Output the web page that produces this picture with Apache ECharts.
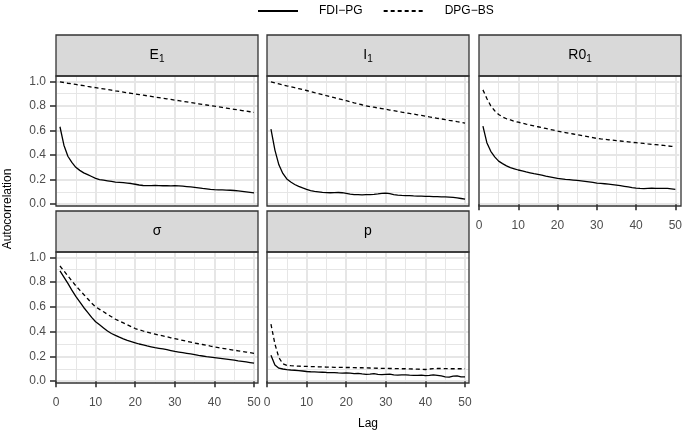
<!DOCTYPE html>
<html>
<head>
<meta charset="utf-8">
<script src="https://cdn.jsdelivr.net/npm/echarts@6/dist/echarts.min.js"></script>
<style>
  html, body { margin: 0; padding: 0; background: #fff; }
  #myChart { width: 685px; height: 432px; }
</style>
</head>
<body>
<div id="myChart"></div>
<script>
// lag axis
const lags = [1,2,3,4,5,6,7,8,9,10,11,12,13,14,15,16,17,18,19,20,21,22,23,24,25,
  26,27,28,29,30,31,32,33,34,35,36,37,38,39,40,41,42,43,44,45,46,47,48,49,50];

// E1
const fdiE1 = [0.63,0.48,0.39,0.34,0.30,0.275,0.255,0.24,0.225,0.21,0.20,0.195,0.19,0.185,0.18,0.178,0.175,0.172,0.168,0.162,
  0.156,0.152,0.151,0.151,0.152,0.151,0.15,0.15,0.149,0.15,0.148,0.146,0.143,0.14,0.137,0.133,0.128,0.124,0.12,0.118,
  0.117,0.116,0.115,0.113,0.111,0.108,0.104,0.1,0.096,0.092];
const dpgE1 = [0.995,0.99,0.984,0.979,0.974,0.969,0.964,0.958,0.953,0.948,0.943,0.938,0.933,0.928,0.922,0.917,0.912,0.907,0.902,0.897,
  0.892,0.887,0.882,0.877,0.872,0.867,0.862,0.857,0.852,0.847,0.842,0.837,0.832,0.827,0.822,0.817,0.812,0.807,0.802,0.797,
  0.792,0.787,0.782,0.777,0.772,0.767,0.762,0.757,0.752,0.747];
// I1
const fdiI1 = [0.61,0.44,0.32,0.25,0.205,0.18,0.16,0.145,0.132,0.12,0.11,0.104,0.1,0.096,0.094,0.093,0.094,0.095,0.093,0.088,
  0.082,0.078,0.077,0.076,0.077,0.078,0.08,0.083,0.087,0.09,0.085,0.078,0.073,0.071,0.07,0.069,0.067,0.066,0.065,0.064,
  0.063,0.062,0.061,0.06,0.059,0.058,0.055,0.051,0.046,0.041];
const dpgI1 = [0.995,0.987,0.979,0.971,0.963,0.956,0.948,0.94,0.932,0.925,0.917,0.908,0.9,0.892,0.883,0.875,0.867,0.858,0.85,0.842,
  0.834,0.825,0.817,0.809,0.8,0.794,0.789,0.783,0.778,0.772,0.766,0.761,0.755,0.749,0.744,0.738,0.733,0.727,0.722,0.716,
  0.71,0.705,0.699,0.694,0.688,0.682,0.677,0.671,0.666,0.66];
// R0_1
const fdiR01 = [0.635,0.50,0.43,0.385,0.35,0.33,0.312,0.298,0.288,0.278,0.27,0.262,0.255,0.248,0.242,0.236,0.228,0.222,0.216,0.21,
  0.206,0.202,0.199,0.196,0.193,0.19,0.186,0.182,0.177,0.172,0.169,0.166,0.163,0.159,0.155,0.15,0.145,0.14,0.135,0.131,
  0.128,0.127,0.129,0.13,0.129,0.128,0.129,0.128,0.125,0.121];
const dpgR01 = [0.93,0.86,0.80,0.76,0.73,0.71,0.695,0.685,0.675,0.667,0.659,0.651,0.644,0.637,0.63,0.623,0.616,0.609,0.602,0.595,
  0.589,0.583,0.577,0.571,0.565,0.559,0.553,0.547,0.541,0.535,0.531,0.528,0.524,0.521,0.517,0.514,0.51,0.507,0.503,0.50,
  0.497,0.494,0.49,0.487,0.484,0.481,0.478,0.474,0.471,0.468];
// sigma
const fdiSigma = [0.89,0.84,0.79,0.735,0.685,0.64,0.595,0.555,0.515,0.48,0.455,0.43,0.405,0.385,0.37,0.355,0.342,0.33,0.32,0.31,
  0.3,0.292,0.284,0.277,0.27,0.265,0.26,0.254,0.247,0.24,0.235,0.23,0.225,0.22,0.214,0.208,0.203,0.198,0.194,0.19,
  0.186,0.182,0.178,0.174,0.169,0.164,0.16,0.155,0.15,0.145];
const dpgSigma = [0.93,0.89,0.85,0.81,0.77,0.735,0.7,0.665,0.63,0.6,0.58,0.56,0.54,0.52,0.5,0.485,0.47,0.455,0.44,0.425,
  0.415,0.405,0.395,0.387,0.38,0.372,0.365,0.358,0.35,0.343,0.336,0.329,0.322,0.315,0.308,0.302,0.296,0.29,0.283,0.277,
  0.271,0.265,0.26,0.255,0.25,0.245,0.24,0.235,0.23,0.225];
// p
const fdiP = [0.21,0.13,0.105,0.098,0.093,0.09,0.088,0.085,0.082,0.078,0.076,0.075,0.073,0.072,0.07,0.069,0.068,0.066,0.065,0.067,
  0.064,0.06,0.062,0.058,0.055,0.057,0.06,0.055,0.052,0.054,0.056,0.05,0.049,0.051,0.05,0.048,0.047,0.046,0.048,0.045,
  0.046,0.05,0.047,0.042,0.035,0.033,0.04,0.042,0.035,0.034];
const dpgP = [0.46,0.30,0.19,0.14,0.128,0.125,0.123,0.121,0.12,0.119,0.118,0.117,0.116,0.115,0.114,0.113,0.112,0.112,0.111,0.11,
  0.11,0.109,0.108,0.108,0.107,0.106,0.105,0.104,0.103,0.103,0.102,0.102,0.101,0.1,0.1,0.099,0.098,0.097,0.095,0.094,
  0.098,0.101,0.102,0.102,0.101,0.1,0.1,0.1,0.1,0.1];

const seriesNames = ['FDI\u2212PG', 'DPG\u2212BS'];
const panelLabels = ['{m|E}{s|1}', '{m|I}{s|1}', '{m|R0}{s|1}', '{m|\u03c3}', '{m|p}'];
const fdiData = [fdiE1, fdiI1, fdiR01, fdiSigma, fdiP];
const dpgData = [dpgE1, dpgI1, dpgR01, dpgSigma, dpgP];

const xTicks = [0, 10, 20, 30, 40, 50];
const xMinor = [5, 15, 25, 35, 45];
const yTicks = [0, 0.2, 0.4, 0.6, 0.8, 1.0];
const yMinor = [0.1, 0.3, 0.5, 0.7, 0.9];

const FONT = 'Liberation Sans';
const colLeft = [56, 267, 479];
const panelW = 202;
const stripTop = [35, 211];
const stripH = 41;
const plotTop = [76, 252];
const plotH = [130, 131];
const gridColor = '#e6e6e6';

let myChart = echarts.init(document.getElementById('myChart'));

let grids = [], xAxes = [], yAxes = [], series = [], graphics = [];
fdiData.forEach(function (fdi, i) {
  const row = Math.floor(i / 3), col = i % 3;
  const left = colLeft[col];
  grids.push({ left: left, top: plotTop[row], width: panelW, height: plotH[row], containLabel: false });

  const showX = (i >= 2);
  const showY = (col === 0);
  // major x
  xAxes.push({
    type: 'value', gridIndex: i, min: 0, max: 51, position: 'bottom',
    axisLine: { show: false },
    axisTick: { show: showX, customValues: xTicks, length: 6, lineStyle: { color: '#333', width: 1.6 } },
    axisLabel: { show: showX, customValues: xTicks, margin: 14, fontFamily: FONT, fontSize: 12, color: '#4d4d4d' },
    splitLine: { show: true, lineStyle: { color: gridColor, width: 2 } }
  });
  // minor x
  xAxes.push({
    type: 'value', gridIndex: i, min: 0, max: 51, position: 'top',
    axisLine: { show: false },
    axisTick: { show: false, customValues: xMinor },
    axisLabel: { show: false },
    splitLine: { show: true, lineStyle: { color: gridColor, width: 1 } }
  });
  yAxes.push({
    type: 'value', gridIndex: i, min: -0.015, max: 1.043, position: 'left',
    axisLine: { show: false },
    axisTick: { show: showY, customValues: yTicks, length: 6, lineStyle: { color: '#333', width: 1.6 } },
    axisLabel: { show: showY, customValues: yTicks, margin: 10, fontFamily: FONT, fontSize: 12, color: '#4d4d4d',
      formatter: function (v) { return v.toFixed(1); } },
    splitLine: { show: true, lineStyle: { color: gridColor, width: 2 } }
  });
  yAxes.push({
    type: 'value', gridIndex: i, min: -0.015, max: 1.043, position: 'right',
    axisLine: { show: false },
    axisTick: { show: false, customValues: yMinor },
    axisLabel: { show: false },
    splitLine: { show: true, lineStyle: { color: gridColor, width: 1 } }
  });

  series.push({
    name: seriesNames[0], type: 'line', xAxisIndex: 2 * i, yAxisIndex: 2 * i,
    data: lags.map(function (l, k) { return [l, fdi[k]]; }),
    symbol: 'none', lineStyle: { color: '#000', width: 1.3, type: 'solid' }, itemStyle: { color: '#000' }
  });
  series.push({
    name: seriesNames[1], type: 'line', xAxisIndex: 2 * i, yAxisIndex: 2 * i,
    data: lags.map(function (l, k) { return [l, dpgData[i][k]]; }),
    symbol: 'none', lineStyle: { color: '#000', width: 1.3, type: [4, 3] }, itemStyle: { color: '#000' }
  });

  // strip
  graphics.push({
    type: 'rect', z: 50,
    shape: { x: left, y: stripTop[row], width: panelW, height: stripH },
    style: { fill: '#d9d9d9', stroke: '#333', lineWidth: 1.3 }
  });
  graphics.push({
    type: 'text', z: 51,
    x: left + panelW / 2, y: stripTop[row] + stripH / 2,
    style: {
      text: panelLabels[i], align: 'center', verticalAlign: 'middle',
      rich: {
        m: { fontFamily: FONT, fontSize: 14, color: '#1a1a1a', lineHeight: 18 },
        s: { fontFamily: FONT, fontSize: 10, color: '#1a1a1a', lineHeight: 9, verticalAlign: 'bottom' }
      }
    }
  });
  // panel border
  graphics.push({
    type: 'rect', z: 50,
    shape: { x: left, y: plotTop[row], width: panelW, height: plotH[row] },
    style: { fill: null, stroke: '#333', lineWidth: 1.3 }
  });
});

graphics.push({
  type: 'text', x: 8, y: 209, rotation: Math.PI / 2,
  style: { text: 'Autocorrelation', align: 'center', verticalAlign: 'middle', fontFamily: FONT, fontSize: 12, fill: '#000' }
});
graphics.push({
  type: 'text', x: 368, y: 424,
  style: { text: 'Lag', align: 'center', verticalAlign: 'middle', fontFamily: FONT, fontSize: 12, fill: '#000' }
});

myChart.setOption({
  animation: false,
  backgroundColor: '#fff',
  legend: {
    data: seriesNames, top: 0, left: 252,
    itemWidth: 40, itemHeight: 14, itemGap: 20,
    itemStyle: { color: 'rgba(0,0,0,0)', borderColor: 'rgba(0,0,0,0)', borderWidth: 0, opacity: 0 },
    textStyle: { fontFamily: FONT, fontSize: 12, color: '#000', padding: [0, 0, 0, 16] }
  },
  grid: grids,
  xAxis: xAxes,
  yAxis: yAxes,
  series: series,
  graphic: graphics
});
</script>
</body>
</html>
